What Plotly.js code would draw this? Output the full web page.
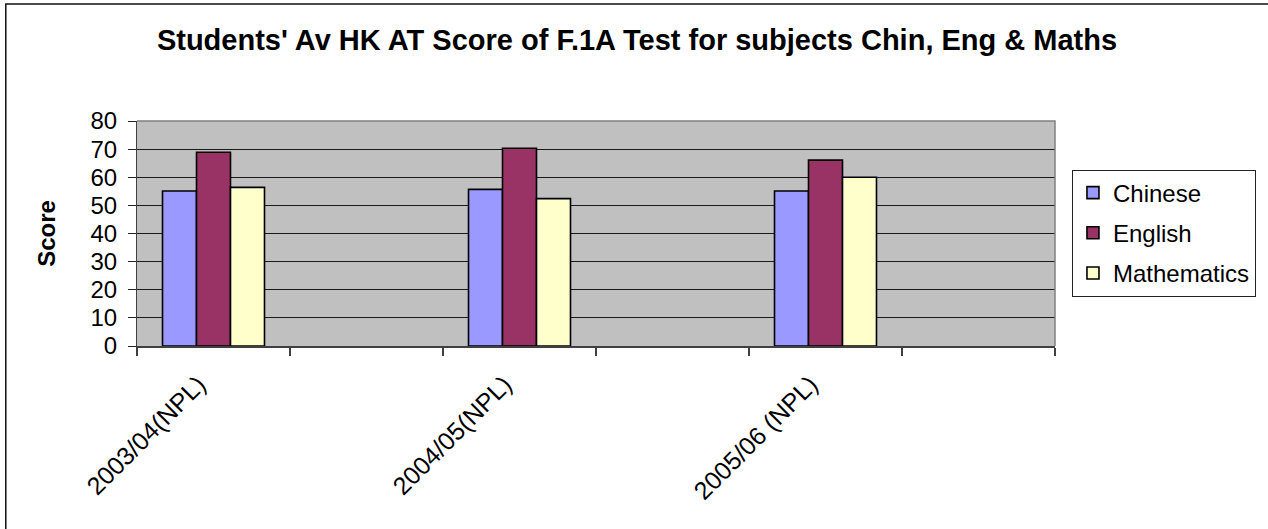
<!DOCTYPE html>
<html>
<head>
<meta charset="utf-8">
<script src="https://cdn.plot.ly/plotly-3.0.1.min.js"></script>
<style>html,body{margin:0;padding:0;background:#fff;}</style>
</head>
<body>
<div id="chart" style="width:1268px;height:529px;"></div>
<script>
const categories = ["2003/04(NPL)", "2004/05(NPL)", "2005/06 (NPL)"];
const seriesNames = ["Chinese", "English", "Mathematics"];
const chinese = [55.1, 55.7, 55.1];
const english = [68.9, 70.3, 66.1];
const maths = [56.4, 52.4, 60.0];
const yTicks = [0, 10, 20, 30, 40, 50, 60, 70, 80];

const colors = ["#9999FF", "#993366", "#FFFFCC"];
const FONT = "Liberation Sans, Arial, sans-serif";

// each category occupies one slot followed by an empty slot (as in the original sheet)
const xPos = categories.map((c, i) => 2 * i);
const nSlots = categories.length * 2;
const boundaries = [];
for (let i = 0; i <= nSlots; i++) boundaries.push(i - 0.5);

const values = [chinese, english, maths];
const traces = values.map((v, k) => ({
  type: "bar",
  name: seriesNames[k],
  legendgroup: seriesNames[k],
  x: xPos,
  y: v,
  marker: {color: colors[k], line: {color: "#000000", width: 1.6}},
  hoverinfo: "y+name"
}));

const L = 137, R = 1057, T = 121, B = 346;
const W = 1268, H = 529;
const pw = R - L, ph = B - T;
const px = v => (v - L) / pw;
const py = v => (B - v) / ph;

const layout = {
  width: W, height: H,
  margin: {l: L, r: W - R, t: T, b: H - B, pad: 0},
  paper_bgcolor: "#ffffff",
  plot_bgcolor: "#C0C0C0",
  font: {family: FONT, size: 24, color: "#000"},
  barmode: "group",
  bargap: 0.6667,
  bargroupgap: 0,
  title: {
    text: "<b>Students' Av HK AT Score of F.1A Test for subjects Chin, Eng & Maths</b>",
    font: {family: FONT, size: 29, color: "#000"},
    x: 637 / W, xref: "container", xanchor: "center",
    y: 1 - 40 / H, yref: "container", yanchor: "middle"
  },
  xaxis: {
    type: "linear",
    range: [-0.5, nSlots - 0.5],
    tickmode: "array",
    tickvals: xPos,
    ticktext: categories,
    tickangle: -45,
    ticks: "outside",
    ticklen: 0,
    ticklabelstandoff: 12,
    ticklabelshift: -15,
    tickfont: {family: FONT, size: 25, color: "#000"},
    minor: {tickmode: "array", tickvals: boundaries, ticks: "outside", ticklen: 8, tickwidth: 1.5, tickcolor: "#404040", showgrid: false},
    showgrid: false,
    zeroline: false,
    showline: true,
    linecolor: "#404040",
    linewidth: 2,
    fixedrange: true
  },
  yaxis: {
    range: [0, 80],
    tickmode: "array",
    tickvals: yTicks,
    ticks: "outside",
    ticklen: 8,
    tickwidth: 1,
    tickcolor: "#222",
    ticklabelstandoff: 6,
    tickfont: {family: FONT, size: 24, color: "#000"},
    showgrid: true,
    gridcolor: "#1a1a1a",
    gridwidth: 1,
    zeroline: false,
    showline: true,
    linecolor: "#404040",
    linewidth: 1,
    title: {text: "<b>Score</b>", font: {family: FONT, size: 24, color: "#000"}, standoff: 28},
    fixedrange: true
  },
  legend: {
    x: px(1074), xanchor: "left",
    y: py(233), yanchor: "middle",
    bgcolor: "#ffffff",
    bordercolor: "#222",
    borderwidth: 1,
    font: {family: FONT, size: 24, color: "#000"},
    tracegroupgap: 6,
    itemwidth: 30
  },
  shapes: [
    {type: "path", xref: "paper", yref: "paper", path: "M0,1 L1,1 L1,0",
     line: {color: "#808080", width: 1.5}, layer: "above"},
    {type: "path", xref: "paper", yref: "paper",
     path: "M" + px(5.5) + "," + py(H + 20) + " L" + px(5.5) + "," + py(4) + " L" + px(W + 20) + "," + py(4),
     line: {color: "#111", width: 1.5}, layer: "above"}
  ],
  showlegend: true
};

Plotly.newPlot("chart", traces, layout, {displayModeBar: false, staticPlot: true});
</script>
</body>
</html>
